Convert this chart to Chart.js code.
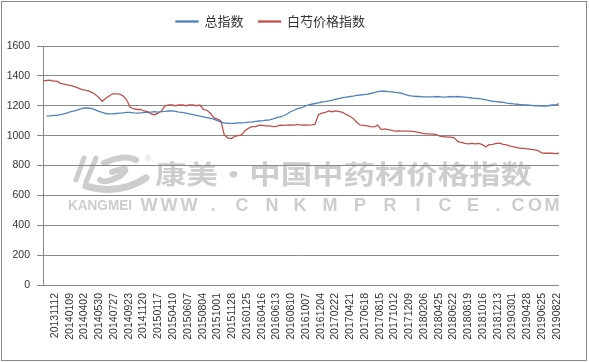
<!DOCTYPE html>
<html>
<head>
<meta charset="utf-8">
<script src="https://cdn.jsdelivr.net/npm/chart.js@4"></script>
<style>
html,body{margin:0;padding:0;background:#fff;}
#wrap{width:589px;height:362px;position:relative;}
</style>
</head>
<body>
<div id="wrap"><canvas id="c" width="589" height="362"></canvas></div>
<script>
// x-axis tick labels (35 labels)
const categoryTicks = ["20131112","20140109","20140402","20140530","20140727","20140923","20141120","20150117","20150410","20150607","20150804","20151001","20151128","20160125","20160416","20160613","20160810","20161007","20161204","20170222","20170421","20170618","20170815","20171012","20171209","20180206","20180425","20180622","20180819","20181016","20181213","20190301","20190428","20190625","20190822"];

const seriesNames = ["总指数","白芍价格指数"];

const totalIndex = [null,1130,1132,1135,1135,1140,1145,1152,1160,1165,1172,1180,1185,1185,1180,1172,1162,1155,1148,1145,
1145,1148,1150,1152,1155,1155,1152,1150,1152,1155,1155,1158,1160,1158,1160,1162,1165,1165,1162,1158,
1155,1150,1145,1140,1135,1130,1125,1120,1115,1110,1100,1090,1085,1083,1082,1083,1085,1085,1087,1090,
1092,1095,1098,1100,1103,1105,1112,1120,1125,1133,1145,1160,1170,1180,1185,1195,1205,1210,1215,1220,
1225,1228,1232,1238,1245,1250,1255,1258,1262,1265,1270,1272,1275,1278,1282,1288,1295,1298,1297,1295,
1293,1290,1288,1282,1275,1268,1265,1262,1262,1260,1260,1260,1260,1262,1260,1258,1260,1262,1260,1262,
1260,1258,1255,1252,1250,1248,1245,1240,1235,1230,1228,1225,1222,1218,1215,1212,1210,1208,1206,1205,
1203,1200,1200,1198,1198,1200,1205,1208,1212];

const baishaoIndex = [1365,1370,1372,1365,1365,1350,1345,1340,1335,1328,1320,1310,1305,1300,1290,1275,1255,1230,1250,1265,
1280,1280,1278,1265,1240,1190,1180,1175,1175,1165,1160,1145,1140,1150,1165,1200,1205,1205,1200,1205,
1205,1200,1205,1205,1200,1205,1175,1170,1150,1120,1110,1100,1005,985,980,995,1000,1005,1035,1050,
1060,1060,1070,1068,1065,1065,1060,1062,1070,1068,1070,1072,1070,1075,1070,1072,1070,1072,1075,1140,
1150,1155,1165,1160,1165,1160,1155,1140,1130,1115,1090,1070,1068,1065,1060,1058,1070,1040,1045,1040,
1035,1030,1032,1030,1030,1030,1028,1025,1020,1015,1012,1012,1010,1005,995,993,990,990,985,960,
955,948,945,948,945,948,940,925,940,942,948,950,942,938,930,925,920,915,915,912,
908,905,900,885,882,882,882,880,882];

const yTicks = [0,200,400,600,800,1000,1200,1400,1600];
</script>
<script>
const N = baishaoIndex.length;
const toPts = arr => arr.map((v, i) => ({ x: i, y: v }));
// label k sits at sample position firstTickPos + k * tickStep
const firstTickPos = 3.44, tickStep = 4.234;

const frame = {
  id: 'frame',
  beforeInit(chart){
    const fit = chart.legend.fit;
    chart.legend.fit = function(){ fit.call(this); this.height = 46; };
  },
  afterUpdate(chart){
    const lg = chart.legend;
    lg.right = lg.right - 18;
    if (lg.adjustHitBoxes) lg.adjustHitBoxes();
  },
  beforeDraw(chart){
    const ctx = chart.ctx;
    ctx.save();
    ctx.fillStyle = '#fff';
    ctx.fillRect(0,0,chart.width,chart.height);
    ctx.strokeStyle = '#8a8a8a';
    ctx.lineWidth = 1;
    ctx.strokeRect(1.5,1.5,585,359);

    const col = '#cdcdcd';
    ctx.fillStyle = col;
    ctx.strokeStyle = col;
    // logo swoosh
    ctx.lineCap = 'round';
    ctx.lineWidth = 5;
    ctx.beginPath(); ctx.moveTo(84,158); ctx.lineTo(76,180); ctx.stroke();
    ctx.beginPath(); ctx.moveTo(96,158); ctx.lineTo(86,182); ctx.stroke();
    ctx.lineWidth = 6;
    ctx.beginPath(); ctx.moveTo(104,163); ctx.quadraticCurveTo(125,154,136,160); ctx.stroke();
    ctx.beginPath(); ctx.moveTo(112,172); ctx.quadraticCurveTo(134,164,120,176); ctx.quadraticCurveTo(104,184,100,180); ctx.stroke();
    ctx.lineWidth = 7;
    ctx.beginPath(); ctx.moveTo(86,186); ctx.quadraticCurveTo(118,196,146,178); ctx.stroke();
    ctx.font = '8px "Liberation Sans"';
    ctx.fillText('®',145,159);
    // big text
    ctx.font = 'bold 26px "Noto Sans CJK SC"';
    ctx.textBaseline = 'middle';
    const t = '康美·中国中药材价格指数';
    const w = ctx.measureText(t).width;
    ctx.save();
    ctx.translate(155,174);
    ctx.scale(377/w,1);
    ctx.fillText(t,0,0);
    ctx.restore();
    // url line
    ctx.font = 'bold 15px "Liberation Sans"';
    ctx.textAlign = 'left';
    const k = 'KANGMEI';
    const kw = ctx.measureText(k).width;
    ctx.save(); ctx.translate(68,206); ctx.scale(64/kw,1); ctx.fillText(k,0,0); ctx.restore();
    ctx.font = 'bold 18px "Liberation Sans"';
    ctx.textAlign = 'center';
    const chars = 'WWW.CNKMPRICE.COM'.split('');
    const cx = [149,169,189,213,242,272,300,330,360,390,418,445,473,498,518,535,552];
    chars.forEach((c,i)=>ctx.fillText(c,cx[i],206));
    ctx.restore();
  }
};

const gridCol = '#878787';
new Chart(document.getElementById('c'), {
  type: 'line',
  data: {
    datasets: [
      { label: seriesNames[0], data: toPts(totalIndex), borderColor: '#4f81bd', backgroundColor: '#4f81bd', borderWidth: 1.3, pointRadius: 0, tension: 0, spanGaps: true },
      { label: seriesNames[1], data: toPts(baishaoIndex), borderColor: '#c0504d', backgroundColor: '#c0504d', borderWidth: 1.3, pointRadius: 0, tension: 0 }
    ]
  },
  options: {
    responsive: false,
    animation: false,
    devicePixelRatio: 1,
    parsing: false,
    layout: { padding: { top: 0, right: 30, bottom: 0, left: 0 } },
    plugins: {
      legend: {
        position: 'top',
        labels: {
          boxWidth: 22, boxHeight: 1, padding: 15,
          color: '#333',
          font: { family: '"Noto Sans CJK SC"', size: 13 }
        }
      },
      tooltip: { enabled: false }
    },
    scales: {
      x: {
        type: 'linear',
        min: 0, max: N - 1,
        grid: { display: false, drawTicks: false },
        border: { display: false },
        afterFit(s){ s.height = 77; },
        afterBuildTicks(s){ s.ticks = categoryTicks.map((_, k) => ({ value: firstTickPos + k * tickStep })); },
        ticks: {
          autoSkip: false, minRotation: 90, maxRotation: 90, padding: 8,
          color: '#333',
          font: { family: '"Liberation Sans"', size: 10.5 },
          callback(v, i){ return categoryTicks[i]; }
        }
      },
      y: {
        min: 0, max: 1600,
        afterFit(s){ s.width = 43; },
        afterBuildTicks(s){ s.ticks = yTicks.map(v => ({ value: v })); },
        grid: { color: gridCol, lineWidth: 1, tickLength: 6, drawTicks: true },
        border: { display: true, color: gridCol },
        ticks: {
          padding: 7, color: '#333',
          font: { family: '"Liberation Sans"', size: 10.5 },
          callback(v){ return String(v); }
        }
      }
    }
  },
  plugins: [frame]
});
</script>
</body>
</html>
